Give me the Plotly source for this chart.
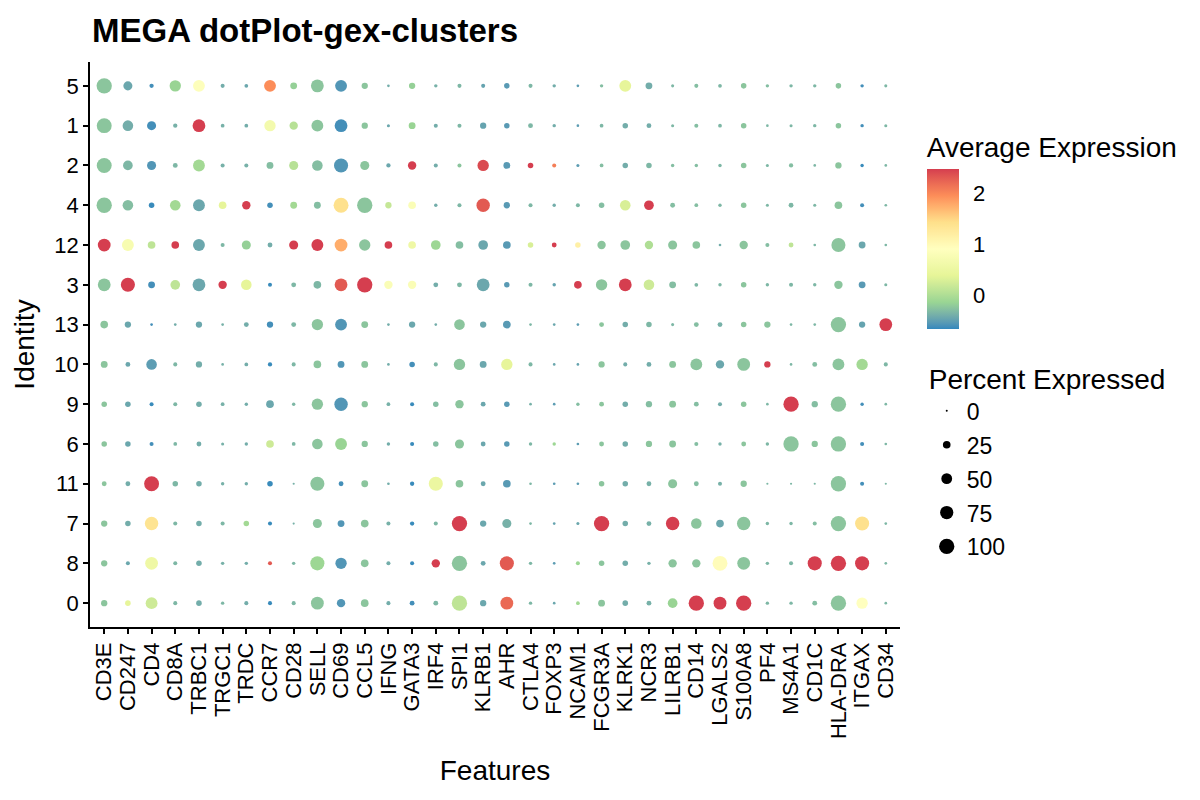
import numpy as np
import plotly.graph_objects as go

# genes on the x axis, clusters on the y axis (top to bottom as drawn)
features = ['CD3E', 'CD247', 'CD4', 'CD8A', 'TRBC1', 'TRGC1', 'TRDC', 'CCR7', 'CD28', 'SELL',
            'CD69', 'CCL5', 'IFNG', 'GATA3', 'IRF4', 'SPI1', 'KLRB1', 'AHR', 'CTLA4', 'FOXP3',
            'NCAM1', 'FCGR3A', 'KLRK1', 'NCR3', 'LILRB1', 'CD14', 'LGALS2', 'S100A8', 'PF4',
            'MS4A1', 'CD1C', 'HLA-DRA', 'ITGAX', 'CD34']
clusters = ['5', '1', '2', '4', '12', '3', '13', '10', '9', '6', '11', '7', '8', '0']

# percent of cells expressing, one row per cluster
pct_exp = [
    [100, 35, 8, 55, 60, 7, 6, 60, 20, 70, 60, 17, 3, 17, 5, 7, 7, 13, 7, 5, 3, 5, 60, 20, 4, 7, 6, 13, 5, 5, 5, 13, 5, 4],
    [95, 48, 35, 8, 70, 6, 6, 55, 30, 60, 70, 17, 4, 20, 7, 7, 17, 13, 10, 5, 3, 6, 13, 10, 4, 7, 6, 13, 3, 4, 5, 13, 5, 4],
    [95, 40, 35, 10, 60, 7, 7, 20, 35, 48, 85, 35, 8, 30, 7, 7, 55, 20, 13, 7, 4, 6, 13, 13, 5, 5, 5, 13, 4, 8, 3, 17, 5, 3],
    [100, 48, 13, 48, 60, 25, 30, 13, 20, 20, 95, 100, 17, 25, 5, 7, 77, 17, 7, 5, 7, 13, 48, 40, 10, 6, 5, 13, 4, 10, 4, 25, 7, 3],
    [70, 60, 25, 25, 60, 7, 35, 10, 35, 60, 70, 55, 25, 25, 40, 25, 40, 25, 13, 10, 13, 30, 40, 30, 35, 25, 3, 30, 7, 10, 3, 85, 20, 3],
    [70, 85, 20, 40, 70, 30, 48, 7, 10, 25, 70, 100, 30, 30, 10, 10, 70, 13, 7, 5, 25, 55, 70, 48, 20, 6, 5, 13, 5, 7, 5, 30, 20, 4],
    [25, 17, 3, 3, 17, 3, 10, 17, 10, 55, 60, 20, 3, 17, 3, 48, 17, 25, 3, 3, 3, 10, 13, 13, 4, 10, 10, 13, 17, 3, 3, 100, 17, 70],
    [20, 10, 48, 7, 17, 3, 6, 8, 7, 25, 20, 20, 3, 13, 7, 55, 20, 55, 7, 3, 3, 17, 7, 10, 20, 60, 30, 70, 17, 3, 10, 60, 55, 7],
    [13, 13, 7, 7, 13, 6, 5, 25, 5, 55, 77, 17, 6, 7, 13, 30, 10, 13, 3, 3, 5, 10, 13, 17, 20, 10, 7, 13, 3, 100, 17, 100, 5, 3],
    [13, 13, 7, 6, 10, 4, 5, 25, 6, 48, 60, 17, 5, 7, 13, 35, 10, 13, 5, 5, 3, 10, 13, 17, 20, 7, 5, 10, 5, 100, 17, 100, 7, 3],
    [10, 10, 95, 13, 13, 5, 5, 13, 2, 85, 10, 20, 3, 8, 85, 25, 10, 25, 3, 3, 3, 13, 13, 10, 35, 10, 7, 17, 2, 2, 2, 100, 7, 2],
    [17, 13, 77, 7, 13, 7, 13, 7, 2, 35, 20, 25, 7, 8, 7, 100, 17, 35, 3, 3, 4, 100, 13, 10, 77, 48, 25, 77, 5, 5, 7, 100, 85, 3],
    [17, 7, 70, 7, 13, 5, 5, 7, 5, 85, 55, 25, 7, 7, 30, 100, 10, 85, 5, 3, 7, 13, 13, 5, 30, 30, 95, 70, 5, 7, 85, 100, 85, 3],
    [17, 13, 60, 7, 13, 5, 7, 7, 7, 70, 30, 25, 7, 10, 10, 100, 17, 70, 5, 3, 6, 20, 13, 10, 40, 100, 70, 100, 5, 5, 10, 100, 55, 3],
]

# scaled average expression, one row per cluster
avg_exp = [
    [-0.25, -0.45, -0.62, -0.15, 0.85, -0.41, -0.45, 1.95, -0.18, -0.25, -0.57, -0.25, -0.41, -0.18, -0.38, -0.34, -0.48, -0.54, -0.34, -0.41, -0.52, -0.3, 0.4, -0.41, -0.34, -0.3, -0.34, -0.25, -0.3, -0.34, -0.34, -0.25, -0.62, -0.34],
    [-0.25, -0.41, -0.62, -0.38, 2.47, -0.38, -0.41, 0.65, 0.05, -0.25, -0.62, -0.25, -0.45, -0.15, -0.41, -0.34, -0.48, -0.54, -0.34, -0.41, -0.52, -0.34, -0.41, -0.41, -0.34, -0.3, -0.34, -0.25, -0.34, -0.34, -0.34, -0.25, -0.62, -0.34],
    [-0.25, -0.34, -0.57, -0.34, -0.08, -0.38, -0.38, -0.3, 0.05, -0.3, -0.57, -0.25, -0.45, 2.47, -0.41, -0.25, 2.4, -0.54, 2.47, 2.05, -0.52, -0.3, -0.41, -0.34, -0.3, -0.3, -0.34, -0.25, -0.34, -0.3, -0.34, -0.25, -0.65, -0.34],
    [-0.25, -0.3, -0.65, -0.08, -0.45, 0.4, 2.47, -0.62, -0.08, -0.3, 1.4, -0.25, 0.15, 0.8, -0.41, -0.34, 2.3, -0.54, -0.34, -0.41, -0.34, -0.3, 0.28, 2.47, -0.3, -0.3, -0.34, -0.25, -0.34, -0.34, -0.34, -0.25, -0.62, -0.34],
    [2.47, 0.72, 0.1, 2.47, -0.45, -0.34, -0.18, -0.41, 2.47, 2.47, 1.75, -0.25, 2.47, 0.55, -0.12, -0.3, -0.45, -0.54, 0.28, 2.47, 1.15, -0.25, -0.25, 0.0, -0.25, -0.25, -0.41, -0.25, -0.3, 0.1, -0.34, -0.25, -0.45, -0.34],
    [-0.25, 2.47, -0.62, 0.1, -0.45, 2.47, 0.4, -0.65, -0.34, -0.34, 2.3, 2.47, 0.8, 0.8, -0.41, -0.34, -0.45, -0.54, -0.34, -0.48, 2.47, -0.25, 2.47, 0.2, -0.3, -0.34, -0.34, -0.25, -0.34, -0.34, -0.34, -0.25, -0.54, -0.34],
    [-0.25, -0.45, -0.62, -0.41, -0.45, -0.38, -0.41, -0.62, -0.34, -0.25, -0.57, -0.25, -0.41, -0.45, -0.41, -0.25, -0.45, -0.54, -0.34, -0.45, -0.52, -0.25, -0.41, -0.34, -0.34, -0.3, -0.38, -0.25, -0.25, -0.34, -0.34, -0.25, -0.48, 2.47],
    [-0.25, -0.45, -0.52, -0.34, -0.41, -0.38, -0.41, -0.65, -0.34, -0.25, -0.57, -0.25, -0.41, -0.62, -0.34, -0.25, -0.45, 0.4, -0.34, -0.45, -0.48, -0.25, -0.41, -0.41, -0.25, -0.25, -0.45, -0.25, 2.47, -0.34, -0.3, -0.25, -0.08, -0.34],
    [-0.25, -0.45, -0.65, -0.34, -0.41, -0.38, -0.41, -0.45, -0.34, -0.25, -0.57, -0.25, -0.38, -0.65, -0.3, -0.25, -0.45, -0.54, -0.38, -0.52, -0.3, -0.25, -0.41, -0.3, -0.25, -0.3, -0.41, -0.25, -0.34, 2.47, -0.3, -0.25, -0.62, -0.34],
    [-0.25, -0.45, -0.62, -0.34, -0.41, -0.38, -0.41, 0.2, -0.34, -0.25, -0.15, -0.25, -0.41, -0.65, -0.3, -0.25, -0.45, -0.54, -0.34, -0.12, -0.52, -0.25, -0.41, -0.25, -0.25, -0.3, -0.38, -0.25, -0.34, -0.25, -0.25, -0.25, -0.62, -0.34],
    [-0.25, -0.41, 2.47, -0.34, -0.41, -0.38, -0.41, -0.65, -0.38, -0.25, -0.62, -0.25, -0.41, -0.65, 0.5, -0.25, -0.45, -0.54, -0.34, -0.52, -0.52, -0.25, -0.41, -0.38, -0.25, -0.3, -0.38, -0.25, -0.34, -0.34, -0.34, -0.25, -0.62, -0.34],
    [-0.25, -0.41, 1.35, -0.34, -0.41, -0.34, -0.08, -0.65, -0.38, -0.25, -0.57, -0.25, -0.38, -0.65, -0.34, 2.47, -0.45, -0.38, -0.34, -0.48, -0.45, 2.47, -0.41, -0.38, 2.47, -0.25, -0.45, -0.25, -0.34, -0.34, -0.3, -0.25, 1.4, -0.34],
    [-0.25, -0.45, 0.55, -0.34, -0.41, -0.38, -0.41, 2.3, -0.34, -0.12, -0.57, -0.25, -0.41, -0.65, 2.47, -0.25, -0.45, 2.3, -0.34, -0.52, -0.12, -0.25, -0.41, -0.38, -0.25, -0.25, 0.95, -0.25, -0.34, -0.34, 2.47, 2.47, 2.47, -0.34],
    [-0.25, 0.4, 0.2, -0.34, -0.41, -0.34, -0.41, -0.65, -0.34, -0.25, -0.57, -0.25, -0.41, -0.62, -0.34, 0.1, -0.45, 2.2, -0.34, -0.45, -0.08, -0.25, -0.41, -0.38, -0.15, 2.47, 2.47, 2.47, -0.34, -0.34, -0.3, -0.25, 0.9, -0.34],
]

legend_pcts = [0, 25, 50, 75, 100]
cbar_ticks = [0, 1, 2]

# RColorBrewer Spectral (7), low -> high, blended in Lab like ggplot does
spectral = ['#3288BD', '#99D594', '#E6F598', '#FFFFBF', '#FEE08B', '#FC8D59', '#D53E4F']


def hex_to_lab(h):
    rgb = np.array([int(h[i:i + 2], 16) / 255 for i in (1, 3, 5)])
    lin = np.where(rgb <= 0.04045, rgb / 12.92, ((rgb + 0.055) / 1.055) ** 2.4)
    m = np.array([[0.4124, 0.3576, 0.1805], [0.2126, 0.7152, 0.0722], [0.0193, 0.1192, 0.9505]])
    xyz = m @ lin / np.array([0.95047, 1.0, 1.08883])
    f = np.where(xyz > 0.008856, np.cbrt(xyz), 7.787 * xyz + 16 / 116)
    return np.array([116 * f[1] - 16, 500 * (f[0] - f[1]), 200 * (f[1] - f[2])])


def lab_to_rgb(lab):
    fy = (lab[0] + 16) / 116
    fx = fy + lab[1] / 500
    fz = fy - lab[2] / 200
    f = np.array([fx, fy, fz])
    xyz = np.where(f > 0.2069, f ** 3, (f - 16 / 116) / 7.787) * np.array([0.95047, 1.0, 1.08883])
    mi = np.array([[3.2406, -1.5372, -0.4986], [-0.9689, 1.8758, 0.0415], [0.0557, -0.2040, 1.0570]])
    lin = np.clip(mi @ xyz, 0, 1)
    rgb = np.where(lin <= 0.0031308, 12.92 * lin, 1.055 * lin ** (1 / 2.4) - 0.055)
    r, g, b = (np.clip(rgb, 0, 1) * 255).round().astype(int)
    return f'rgb({r},{g},{b})'


labs = [hex_to_lab(c) for c in spectral]
colorscale = []
for t in np.linspace(0, 1, 61):
    seg = min(int(t * (len(labs) - 1)), len(labs) - 2)
    u = t * (len(labs) - 1) - seg
    colorscale.append([float(t), lab_to_rgb(labs[seg] * (1 - u) + labs[seg + 1] * u)])

FONT = 'Liberation Sans, Arial, sans-serif'
MAX_DOT = 15.3


def dot_size(p):
    # area scaling, like ggplot scale_size
    return max(MAX_DOT * np.sqrt(p / 100), 1.6)


xs, ys, sizes, cols = [], [], [], []
for ci, cl in enumerate(clusters):
    for fi, f in enumerate(features):
        xs.append(f)
        ys.append(cl)
        sizes.append(dot_size(pct_exp[ci][fi]))
        cols.append(avg_exp[ci][fi])

fig = go.Figure()
fig.add_trace(go.Scatter(
    x=xs, y=ys, mode='markers', showlegend=False,
    marker=dict(size=sizes, sizemode='diameter', opacity=1, color=cols, colorscale=colorscale,
                cmin=-0.67, cmax=2.47, line=dict(width=0),
                colorbar=dict(title=dict(text='Average Expression', side='top',
                                         font=dict(size=28, family=FONT, color='black')),
                              xref='paper', x=1.033, xanchor='left', xpad=0,
                              y=0.527, yanchor='bottom', ypad=0,
                              lenmode='pixels', len=196, thickness=32,
                              outlinewidth=0, tickvals=cbar_ticks,
                              ticks='outside', ticklen=10, tickcolor='white', tickwidth=1,
                              tickfont=dict(size=22, family=FONT, color='black'))),
    hovertemplate='%{x} / cluster %{y}<extra></extra>'))

# size legend entries
for p in legend_pcts:
    fig.add_trace(go.Scatter(x=[None], y=[None], mode='markers', name=str(p),
                             legendgroup=str(p),
                             marker=dict(size=dot_size(p), color='black', opacity=1,
                                         line=dict(width=0))))

# the page adds an 8px body margin, so margins are trimmed by 8px on top/left
fig.update_layout(
    width=1200, height=800,
    margin=dict(l=82, r=308, t=54, b=181),
    paper_bgcolor='white', plot_bgcolor='white',
    font=dict(family=FONT, color='black'),
    title=dict(text='<b>MEGA dotPlot-gex-clusters</b>', x=0.07, xanchor='left',
               y=0.9725, yanchor='middle', font=dict(size=33, family=FONT, color='black')),
    legend=dict(title=dict(text='Percent Expressed', font=dict(size=28, family=FONT)),
                font=dict(size=23, family=FONT), itemsizing='trace',
                x=1.033, xanchor='left', y=0.485, yanchor='top',
                tracegroupgap=1, bgcolor='rgba(0,0,0,0)'),
)

fig.update_xaxes(categoryorder='array', categoryarray=features, range=[-0.6, len(features) - 0.4],
                 tickmode='array', tickvals=features, ticktext=features,
                 showline=True, linecolor='black', linewidth=1.5, showgrid=False, zeroline=False,
                 ticks='outside', ticklen=5, tickwidth=1.5, tickcolor='black', tickangle=-90,
                 tickfont=dict(size=22, family=FONT, color='black'),
                 title=dict(text='Features', font=dict(size=28, family=FONT), standoff=22))
fig.update_yaxes(categoryorder='array', categoryarray=clusters[::-1], range=[-0.6, len(clusters) - 0.4],
                 showline=True, linecolor='black', linewidth=1.5, showgrid=False, zeroline=False,
                 ticks='outside', ticklen=5, tickwidth=1.5, tickcolor='black',
                 tickfont=dict(size=22, family=FONT, color='black'),
                 title=dict(text='Identity', font=dict(size=28, family=FONT), standoff=12))

fig.write_html('out.html')
